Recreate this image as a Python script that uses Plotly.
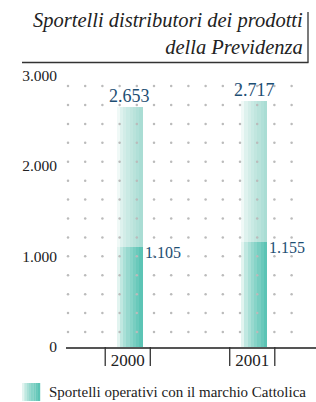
import numpy as np
import plotly.graph_objects as go

# ---- data ----
years = ["2000", "2001"]
totale_sportelli = [2653, 2717]          # sportelli distributori
sportelli_cattolica = [1105, 1155]       # sportelli operativi con il marchio Cattolica
y_tick_vals = [0, 1000, 2000, 3000]
title_text = "Sportelli distributori dei prodotti<br>della Previdenza"
legend_text = "Sportelli operativi con il marchio Cattolica"

def fmt(v):
    return f"{v:,}".replace(",", ".")

# ---- geometry / style ----
W, H = 316, 402
ML, MR, MT, MB = 66, 0, 70, 55
PW, PH = W - ML - MR, H - MT - MB
XR = [-0.496, 1.512]
YR = [0, 3061]
SERIF = "Liberation Serif, Times New Roman, serif"

N = 8
bar_w = 0.209
bar_shift = 0.015
stripe_w = bar_w / N

def grad(c0, c1, n):
    out = []
    for i in range(n):
        t = (i / (n - 1)) ** 0.7
        c = [round(a + (b - a) * t) for a, b in zip(c0, c1)]
        out.append(f"rgb({c[0]},{c[1]},{c[2]})")
    return out

light_cols = grad((240, 249, 247), (170, 221, 212), N)
dark_cols = grad((226, 244, 240), (92, 196, 181), N)

def striped(vals, cols, name):
    xs, ys, offs, cs = [], [], [], []
    for yr, v in zip(years, vals):
        for i in range(N):
            xs.append(yr)
            ys.append(v)
            offs.append(-bar_w / 2 + bar_shift + i * stripe_w)
            cs.append(cols[i])
    return go.Bar(x=xs, y=ys, offset=offs, width=stripe_w * 1.02,
                  marker=dict(color=cs, line=dict(width=0)),
                  name=name, showlegend=False, hoverinfo="skip")

fig = go.Figure()
fig.add_trace(striped(totale_sportelli, light_cols, "Totale"))
fig.add_trace(striped(sportelli_cattolica, dark_cols, legend_text))

# decorative dot grid (on top of bars)
gx = 2 + 17.2 * np.arange(14)
gy = 166 + 209 * np.arange(14)
GX, GY = np.meshgrid(gx, gy)
fig.add_trace(go.Scatter(x=GX.ravel(), y=GY.ravel(), xaxis="x2", yaxis="y",
                         mode="markers",
                         marker=dict(size=2.5, color="#bbbbbb", line=dict(width=0)),
                         showlegend=False, hoverinfo="skip"))

annotations = []
for i, (t, c) in enumerate(zip(totale_sportelli, sportelli_cattolica)):
    annotations.append(dict(x=i + bar_shift, y=t, xref="x", yref="y", text=fmt(t),
                            showarrow=False, xanchor="center", yanchor="bottom",
                            yshift=-1, font=dict(family=SERIF, size=18, color="#1d4e73")))
    annotations.append(dict(x=i + bar_shift + bar_w / 2, y=c, xref="x", yref="y", text=fmt(c),
                            showarrow=False, xanchor="left", yanchor="middle",
                            xshift=0, yshift=-5, font=dict(family=SERIF, size=16, color="#1d4e73")))

def px_x(p):
    return (p - ML) / PW

def px_y(p):
    return (H - MB - p) / PH

annotations.append(dict(x=px_x(305), y=px_y(33), xref="paper", yref="paper", text=title_text,
                        showarrow=False, xanchor="right", yanchor="middle", align="right",
                        font=dict(family=SERIF, size=20.5, color="#222222", style="italic")))
annotations.append(dict(x=px_x(47), y=px_y(392), xref="paper", yref="paper", text=legend_text,
                        showarrow=False, xanchor="left", yanchor="middle", align="left",
                        font=dict(family=SERIF, size=15, color="#222222")))

shapes = []
# frame of the title
shapes.append(dict(type="line", xref="paper", yref="paper", x0=px_x(22), x1=px_x(308.5),
                   y0=px_y(62.5), y1=px_y(62.5), line=dict(color="#333333", width=1.3)))
shapes.append(dict(type="line", xref="paper", yref="paper", x0=px_x(308), x1=px_x(308),
                   y0=px_y(12), y1=px_y(62.5), line=dict(color="#333333", width=1.3)))
# small vertical marks flanking the category labels
for i in range(len(years)):
    for d in (-0.181, 0.181):
        xp = (i + d - XR[0]) / (XR[1] - XR[0])
        shapes.append(dict(type="line", xref="paper", yref="paper", x0=xp, x1=xp,
                           y0=0, y1=px_y(366), line=dict(color="#333333", width=1.3)))
# legend swatch
for i in range(N):
    x0 = 22 + i * 18 / N
    shapes.append(dict(type="rect", xref="paper", yref="paper",
                       x0=px_x(x0), x1=px_x(x0 + 18 / N + 0.2), y0=px_y(401), y1=px_y(383),
                       fillcolor=dark_cols[i], line=dict(width=0)))

fig.update_layout(
    width=W, height=H,
    margin=dict(l=ML, r=MR, t=MT, b=MB, pad=0),
    paper_bgcolor="white", plot_bgcolor="white",
    barmode="overlay", bargap=0,
    separators=",.",
    showlegend=False,
    font=dict(family=SERIF, color="#222222"),
    xaxis=dict(type="category", range=XR, showgrid=False, zeroline=False,
               showline=True, linecolor="#555555", linewidth=1.5,
               ticks="", tickfont=dict(family=SERIF, size=17, color="#222222"),
               ticklabelstandoff=-3, fixedrange=True),
    xaxis2=dict(overlaying="x", range=[0, PW], visible=False, fixedrange=True),
    yaxis=dict(range=YR, tickvals=y_tick_vals, tickformat=",d", showgrid=False,
               zeroline=False, showline=False, ticks="",
               tickfont=dict(family=SERIF, size=15.5, color="#222222"),
               ticklabelstandoff=8, fixedrange=True),
    annotations=annotations,
    shapes=shapes,
)

fig.write_html("out.html", config={"displayModeBar": False, "staticPlot": True},
               post_script="document.body.style.margin='0';document.body.style.overflow='hidden';")
